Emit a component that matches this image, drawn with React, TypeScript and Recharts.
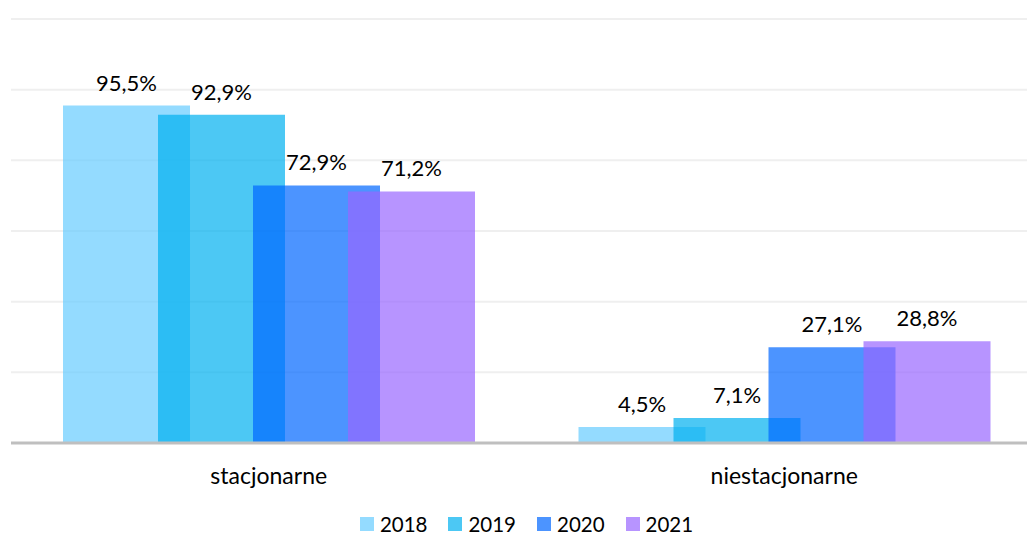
import React from 'react'
import { BarChart, Bar, XAxis, YAxis, CartesianGrid, Legend, LabelList } from 'recharts'

const categories = ['stacjonarne', 'niestacjonarne']
const years = ['2018', '2019', '2020', '2021']
const values2018 = [95.5, 4.5]
const values2019 = [92.9, 7.1]
const values2020 = [72.9, 27.1]
const values2021 = [71.2, 28.8]
const yTicks = [0, 20, 40, 60, 80, 100, 120]

const colors = ['#66CCFF', '#00B0F0', '#0066FF', '#9966FF']
const FONT = 'Lato, "Open Sans", sans-serif'

const data = categories.map((name, i) => ({
  name,
  '2018': values2018[i],
  '2019': values2019[i],
  '2020': values2020[i],
  '2021': values2021[i],
}))

const fmt = (v: any) => Number(v).toFixed(1).replace('.', ',') + '%'

const renderLegend = () => (
  <div style={{ display: 'flex', justifyContent: 'center', fontFamily: FONT, fontSize: 20.5, lineHeight: '22px', color: '#000' }}>
    {years.map((y, i) => (
      <div key={y} style={{ display: 'flex', alignItems: 'center', marginRight: i < years.length - 1 ? 21 : 0 }}>
        <span style={{ display: 'inline-block', width: 14, height: 14, background: colors[i], opacity: 0.7, marginRight: 6 }} />
        <span>{y}</span>
      </div>
    ))}
  </div>
)

export default function App() {
  return (
    <div style={{ position: 'absolute', left: 0, top: 0, width: 1027, height: 535, overflow: 'hidden', background: '#fff' }}>
      <BarChart
        width={1064}
        height={535}
        data={data}
        barSize={127}
        barGap={-32}
        margin={{ top: 19, right: 22, left: 11, bottom: 16 }}
      >
        <CartesianGrid vertical={false} stroke="#efefef" strokeWidth={2} />
        <YAxis hide domain={[0, 120]} ticks={yTicks} />
        <XAxis
          dataKey="name"
          axisLine={{ stroke: '#bfbfbf', strokeWidth: 3 }}
          tickLine={false}
          tickMargin={19}
          height={54}
          tick={{ fill: '#000', fontSize: 23, fontFamily: FONT }}
        />
        <Legend verticalAlign="bottom" content={renderLegend} wrapperStyle={{ bottom: 0 }} />
        {years.map((y, i) => (
          <Bar key={y} dataKey={y} fill={colors[i]} fillOpacity={0.7} isAnimationActive={false}>
            <LabelList dataKey={y} position="top" offset={15} formatter={fmt} style={{ fill: '#000', fontSize: 22, fontFamily: FONT }} />
          </Bar>
        ))}
      </BarChart>
    </div>
  )
}
